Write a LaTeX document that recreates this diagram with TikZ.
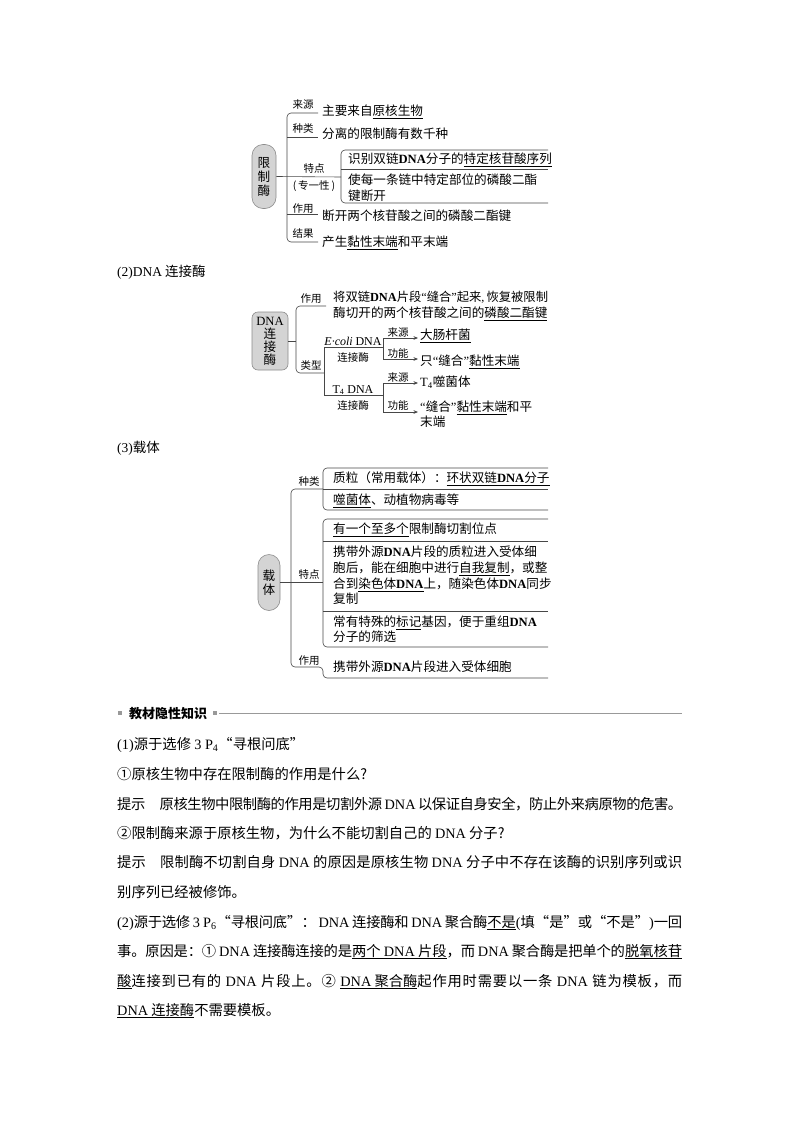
\documentclass[tikz,border=0pt]{standalone}
\usepackage{fontspec}
\setmainfont{Noto Sans CJK SC}
\newfontfamily\tms{Liberation Serif}
\usetikzlibrary{arrows.meta}
\makeatletter
\chardef\cjkcls=50
\count@="3000
\loop\ifnum\count@<"A000 \XeTeXcharclass\count@=\cjkcls\relax\advance\count@\@ne\repeat
\count@="FF00
\loop\ifnum\count@<"FF70 \XeTeXcharclass\count@=\cjkcls\relax\advance\count@\@ne\repeat
\XeTeXcharclass"2460=\cjkcls\relax
\XeTeXcharclass"2461=\cjkcls\relax
\makeatother
\XeTeXinterchartoks\cjkcls\cjkcls={\hskip0pt plus 1pt minus 0.6pt\relax}
\XeTeXinterchartokenstate=1
\newcommand\D{{\tms DNA}}
\newcommand\DB{{\tms\bfseries DNA}}
\newcommand\uln[1]{\underline{#1}}
\newcommand\oqt{{\tms “}}
\newcommand\cqt{{\tms ”}}
\newcommand\jl[1]{\hbox to 565pt{#1}}
\tikzset{
 ln/.style={draw=black!72, line width=0.6pt},
 arr/.style={ln, -{Stealth[length=4.5pt,width=3.6pt]}},
 lbl/.style={font=\fontsize{10.5}{12}\selectfont, anchor=base, inner sep=0pt},
 dt/.style={font=\fontsize{12.6}{14}\selectfont, anchor=base west, inner sep=0pt},
 bt/.style={font=\fontsize{14.3}{16}\selectfont, anchor=base west, inner sep=0pt},
 hub/.style={draw=black!45, fill=black!17, line width=0.6pt, inner sep=0pt, align=center, font=\fontsize{12.6}{14}\selectfont},
}
\begin{document}
\begin{tikzpicture}[x=1pt,y=-1pt]
\fill[white] (0,0) rectangle (800,1132);
\useasboundingbox (0,0) rectangle (800,1132);

% ---------------- diagram 1 ----------------
\node[hub, minimum width=24pt, minimum height=64pt, rounded corners=11pt] (h1) at (264,176.5) {限\\制\\酶};
\draw[ln] (h1.east) -- (341,177);
\draw[ln, rounded corners=4pt] (318,113) -- (287,113) -- (287,242) -- (318,242);
\draw[ln] (287,137) -- (318,137);
\draw[ln] (287,214) -- (318,214);
\draw[ln, rounded corners=4pt] (548,150) -- (341,150) -- (341,203) -- (548,203);
\draw[ln] (341,169) -- (548,169);
\node[lbl] (a1) at (303,108) {来源};
\node[lbl] (a2) at (303,132) {种类};
\node[lbl] (a3) at (314,172) {特点};
\node[lbl] (a4) at (314,189) {(\,专一性\,)};
\node[lbl] (a5) at (303,212) {作用};
\node[lbl] (a6) at (303,237) {结果};
\node[dt] (t1) at (322,115.5) {主要来自\uln{原核生物}};
\node[dt] (t2) at (322,138.5) {分离的限制酶有数千种};
\node[dt] (t3) at (348,163.5) {识别双链\DB{}分子的\uln{特定核苷酸序列}};
\node[dt] (t4) at (348,184.5) {使每一条链中特定部位的磷酸二酯};
\node[dt] (t5) at (348,200.5) {键断开};
\node[dt] (t6) at (322,220.5) {断开两个核苷酸之间的磷酸二酯键};
\node[dt] (t7) at (322,246.5) {产生\uln{黏性末端}和平末端};

% ---------------- title 2 ----------------
\node[bt, font=\fontsize{13.5}{15}\selectfont] (ti2) at (117,276) {{\tms (2)DNA} 连接酶};

% ---------------- diagram 2 ----------------
\node[hub, minimum width=36pt, minimum height=58pt, rounded corners=6pt, font=\fontsize{12.6}{13}\selectfont] (h2) at (270,341) {{\tms DNA}\\连\\接\\酶};
\draw[ln] (h2.east) -- (296,341);
\draw[ln, rounded corners=4pt] (326,306) -- (296,306) -- (296,373) -- (324,373);
\draw[ln] (383,347) -- (324,347) -- (324,395) -- (383,395);
\draw[arr] (383,347) -- (383,338) -- (418,338);
\draw[arr] (383,347) -- (383,359) -- (418,359);
\draw[arr] (383,395) -- (383,383) -- (418,383);
\draw[arr] (383,395) -- (383,412) -- (418,412);
\node[lbl] (b1) at (311,302) {作用};
\node[lbl] (b2) at (311,369) {类型};
\node[lbl, font=\fontsize{12}{13}\selectfont] (b3) at (353,345) {{\tms\itshape E·coli} {\tms DNA}};
\node[lbl] (b4) at (353,361) {连接酶};
\node[lbl, font=\fontsize{12}{13}\selectfont] (b5) at (353,393) {{\tms T\textsubscript{4} DNA}};
\node[lbl] (b6) at (353,409) {连接酶};
\node[lbl] (b7) at (398,336) {来源};
\node[lbl] (b8) at (398,357) {功能};
\node[lbl] (b9) at (398,381) {来源};
\node[lbl] (b10) at (398,409) {功能};
\node[dt, font=\fontsize{12.3}{14}\selectfont] (u1) at (333,301.5) {将双链\DB{}片段\oqt 缝合\cqt 起来{\tms ,}\,恢复被限制};
\node[dt] (u2) at (333,317.5) {酶切开的两个核苷酸之间的\uln{磷酸二酯键}};
\node[dt] (u3) at (420,339.5) {\uln{大肠杆菌}};
\node[dt] (u4) at (420,365.5) {只\oqt 缝合\cqt\uln{黏性末端}};
\node[dt] (u5) at (420,386.5) {{\tms T\textsubscript{4}}噬菌体};
\node[dt] (u6) at (420,411.5) {\oqt 缝合\cqt\uln{黏性末端}和平};
\node[dt] (u7) at (420,426.5) {末端};

% ---------------- title 3 ----------------
\node[bt, font=\fontsize{13.5}{15}\selectfont] (ti3) at (117,452) {{\tms (3)}载体};

% ---------------- diagram 3 ----------------
\node[hub, minimum width=22pt, minimum height=56pt, rounded corners=11pt] (h3) at (269,582.5) {载\\体};
\draw[ln] (h3.east) -- (323,582.5);
\draw[ln, rounded corners=4pt] (323,489) -- (291,489) -- (291,667) -- (323,667) -- (323,678) -- (548,678);
\draw[ln, rounded corners=4pt] (548,468) -- (323,468) -- (323,510) -- (548,510);
\draw[ln] (323,489) -- (548,489);
\draw[ln, rounded corners=4pt] (548,519) -- (323,519) -- (323,647) -- (548,647);
\draw[ln] (323,541) -- (548,541);
\draw[ln] (323,611) -- (548,611);
\node[lbl] (c1) at (309,485) {种类};
\node[lbl] (c2) at (309,578) {特点};
\node[lbl] (c3) at (309,664) {作用};
\node[dt] (v1) at (333,482.5) {质粒（常用载体）：\uln{环状双链\DB{}分子}};
\node[dt] (v2) at (333,504.5) {\uln{噬菌体}、动植物病毒等};
\node[dt] (v3) at (333,533.5) {\uln{有一个至多个}限制酶切割位点};
\node[dt] (v4) at (333,556.5) {携带外源\DB{}片段的质粒进入受体细};
\node[dt] (v5) at (333,572.5) {胞后，能在细胞中进行\uln{自我复制}，或整};
\node[dt] (v6) at (333,588.5) {合到\uln{染色体\DB{}}上，随染色体\DB{}同步};
\node[dt] (v7) at (333,603.5) {复制};
\node[dt] (v8) at (333,626.5) {常有特殊的\uln{标记}基因，便于重组\DB{}};
\node[dt] (v9) at (333,641.5) {分子的筛选};
\node[dt] (v10) at (333,671.5) {携带外源\DB{}片段进入受体细胞};

% ---------------- header ----------------
\fill[black!40] (118,711) rectangle (122,715);
\node[anchor=base west, inner sep=0pt, font=\bfseries\fontsize{13}{15}\selectfont] (hd) at (129,718) {教材隐性知识};
\fill[black!40] (213,711) rectangle (217,715);
\draw[black!40, line width=0.7pt] (219,713) -- (682,713);

% ---------------- text ----------------
\node[bt] (p1) at (117,749) {{\tms (1)}源于选修 {\tms 3 P\textsubscript{4}}“寻根问底”};
\node[bt] (p2) at (117,779) {①原核生物中存在限制酶的作用是什么?};
\node[bt] (p3) at (117,809) {\jl{提示\hspace{1em}原核生物中限制酶的作用是切割外源 \D{} 以保证自身安全，防止外来病原物的危害。}};
\node[bt] (p4) at (117,838) {②限制酶来源于原核生物，为什么不能切割自己的 \D{} 分子?};
\node[bt] (p5) at (117,867) {\jl{提示\hspace{1em}限制酶不切割自身 \D{} 的原因是原核生物 \D{} 分子中不存在该酶的识别序列或识}};
\node[bt] (p6) at (117,897) {别序列已经被修饰。};
\node[bt] (p7) at (117,927) {\jl{{\tms (2)}源于选修 {\tms 3 P\textsubscript{6}}“寻根问底”： \D{} 连接酶和 \D{} 聚合酶\uln{不是}{\tms (}填“是”或“不是”{\tms )}一回}};
\node[bt] (p8) at (117,956) {\jl{事。原因是：① \D{} 连接酶连接的是\uln{两个 \D{} 片段}，而 \D{} 聚合酶是把单个的\uln{脱氧核苷}}};
\node[bt] (p9) at (117,986) {\jl{\uln{酸}连接到已有的 \D{} 片段上。② \uln{\D{} 聚合酶}起作用时需要以一条 \D{} 链为模板，而}};
\node[bt] (p10) at (117,1015) {\uln{\D{} 连接酶}不需要模板。};
\end{tikzpicture}
\end{document}
